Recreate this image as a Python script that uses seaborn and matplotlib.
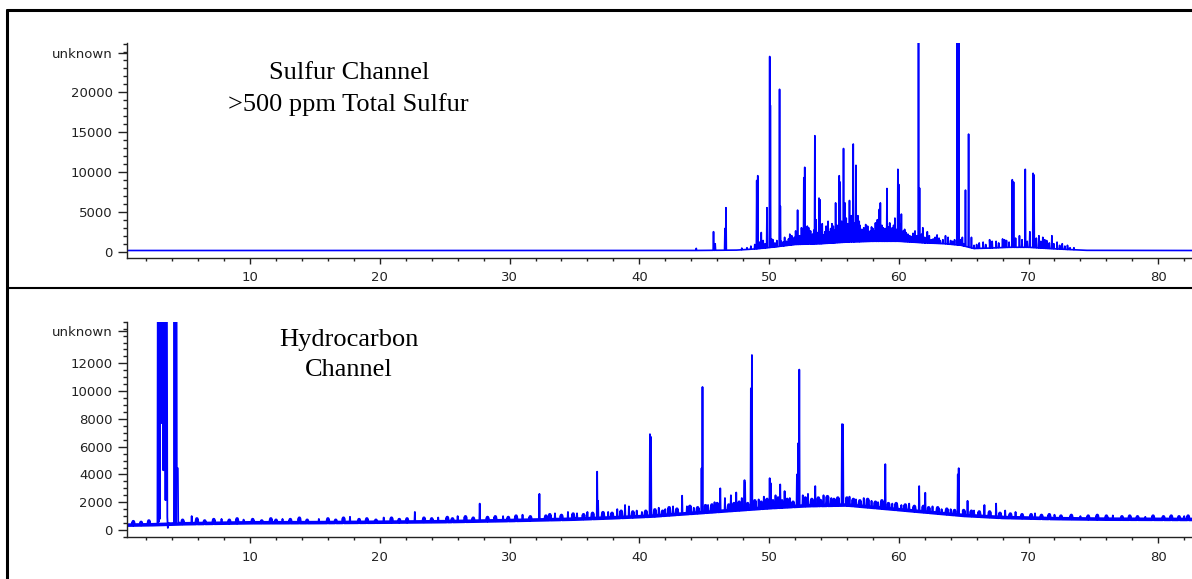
import numpy as np
import matplotlib
matplotlib.use("Agg")
import matplotlib.pyplot as plt
from matplotlib.ticker import MultipleLocator, FixedLocator, FixedFormatter
from matplotlib.lines import Line2D
import seaborn as sns

# ---------------- data ----------------
# Sulfur channel baseline knots
s_base_t = [0.49, 44.0, 47.5, 49.0, 50.5, 52.0, 54.0, 56.0, 58.0, 60.0, 62.0, 63.5, 64.8, 65.8, 67.0, 68.5, 70.0, 71.5, 73.0, 74.5, 82.6]
s_base_v = [150, 150, 200, 350, 600, 900, 1000, 1200, 1300, 1300, 1100, 1000, 800, 400, 450, 550, 550, 400, 280, 170, 150]

# Sulfur channel main peaks (retention time, signal)
s_peak_t = [44.39, 45.72, 45.85, 46.60, 46.68, 47.9, 48.3, 48.6, 49.05, 49.13, 49.4, 49.84, 50.05, 50.10,
            50.3, 50.81, 50.87, 51.1, 51.5, 51.75, 51.95, 52.2, 52.5, 52.68, 52.75, 52.95, 53.2, 53.35,
            53.53, 53.62, 53.85, 53.92, 54.1, 54.3, 54.55, 54.75, 54.95, 55.13, 55.41, 55.48, 55.74,
            55.85, 56.05, 56.2, 56.49, 56.70, 56.85, 57.0, 57.3, 57.6, 57.8, 58.0, 58.2, 58.5, 58.58,
            58.8, 59.09, 59.3, 59.5, 59.7, 59.93, 60.0, 60.2, 60.45, 60.7, 61.0, 61.25, 61.52, 61.6,
            61.85, 62.2, 62.5, 62.8, 63.2, 63.6, 64.0, 64.3, 64.50, 64.62, 64.9, 65.14, 65.38, 65.6,
            66.0, 66.5, 67.0, 67.5, 68.0, 68.3, 68.75, 68.85, 69.3, 69.75, 70.1, 70.35, 70.42, 70.8,
            71.1, 71.4, 71.8, 72.2, 72.6, 73.0, 73.5]
s_peak_v = [420, 2500, 1000, 2900, 5500, 450, 500, 700, 8900, 9500, 2400, 5500, 24400, 18300,
            1500, 20300, 5700, 1200, 1600, 2000, 1800, 5200, 3000, 9250, 10550, 3200, 2600, 2200,
            14500, 4000, 6700, 6500, 3500, 2500, 3800, 2900, 3200, 6100, 9500, 8700, 12900,
            6100, 3500, 6400, 13460, 10800, 4500, 3300, 3000, 3200, 2600, 2900, 3600, 5300, 6100,
            3000, 7900, 3600, 3000, 4200, 10300, 8400, 4700, 2800, 2200, 1900, 2600, 30000, 7960,
            3000, 2500, 1500, 1800, 1400, 2000, 1400, 1500, 30000, 30000, 1800, 7700, 14700, 1800,
            900, 1200, 1500, 1300, 1600, 1400, 9000, 8700, 2000, 10300, 2500, 9800, 9600, 2000,
            1800, 1400, 2000, 1200, 1000, 800, 500]

# Sulfur channel minor clutter peaks
s_small_t = [48.9, 49.25, 49.55, 49.7, 50.2, 50.45, 50.6, 50.95, 51.2, 51.35, 51.6, 51.85, 52.05, 52.35,
             52.6, 52.85, 53.05, 53.25, 53.45, 53.7, 54.0, 54.2, 54.4, 54.65, 54.85, 55.05, 55.25,
             55.6, 55.95, 56.1, 56.35, 56.6, 56.95, 57.15, 57.45, 57.7, 57.9, 58.1, 58.35, 58.7,
             58.95, 59.2, 59.4, 59.6, 59.85, 60.1, 60.35, 60.55, 60.85, 61.1, 61.4, 61.75, 62.0,
             62.35, 62.65, 62.95, 63.1, 63.4, 63.8, 64.15, 64.75, 65.0, 65.8, 66.2, 66.7, 67.2,
             67.7, 68.15, 68.5, 69.0, 69.5, 69.9, 70.6, 70.95, 71.25, 71.6, 71.95, 72.4, 72.8, 73.2]
s_small_v = [900, 1200, 1400, 1000, 1600, 1100, 1400, 1300, 1800, 1300, 2200, 1500, 2600, 2000,
             2800, 2300, 3000, 2000, 2700, 2400, 2900, 2100, 3200, 2500, 3500, 2700, 3300,
             3800, 4200, 3000, 4500, 3600, 3800, 2800, 3400, 2500, 3100, 2600, 4000, 3300,
             2900, 3100, 2500, 3300, 2800, 3500, 2600, 2400, 2000, 2300, 2000, 2200, 1800,
             2000, 1600, 2100, 1700, 1500, 1800, 1300, 1500, 1000, 800, 1100, 900, 1300,
             1100, 1500, 1200, 1700, 1500, 1300, 1700, 1300, 1500, 1100, 1000, 800, 700, 500]

# Hydrocarbon channel baseline knots
h_base_t = [0.49, 2.5, 5, 10, 15, 20, 25, 30, 35, 38, 41, 44, 47, 50, 53, 56, 59, 62, 65, 68, 72, 76, 82.6]
h_base_v = [350, 380, 450, 520, 530, 560, 600, 680, 780, 880, 1000, 1200, 1400, 1600, 1750, 1800,
            1550, 1300, 1050, 900, 820, 780, 760]

# Hydrocarbon channel: solvent cluster traced point by point (off-scale tops)
h_clu_t = [2.86, 2.89, 2.92, 2.95, 2.98, 3.01, 3.04, 3.07, 3.10, 3.16, 3.22, 3.26, 3.31, 3.36, 3.42,
           3.48, 3.54, 3.58, 3.62, 3.66, 3.72, 3.9, 4.14, 4.17, 4.20, 4.23, 4.26, 4.29, 4.33, 4.35,
           4.43, 4.46, 4.6]
h_clu_v = [450, 20000, 600, 20000, 600, 20000, 800, 20000, 20000, 7700, 20000, 20000, 4300, 20000, 20000,
           2150, 20000, 20000, 930, 150, 500, 450, 500, 20000, 500, 20000, 500, 20000, 20000, 4450,
           4450, 600, 480]

# Hydrocarbon channel peaks (retention time, signal)
h_peak_t = [5.5, 7.8, 9.5, 12.5, 15.3, 17.7, 20.3, 22.7, 24.5, 26.0, 27.7, 29.5, 31.0, 32.3, 33.5,
            34.5, 35.2, 36.0, 36.75, 36.82, 37.6, 38.3, 38.9, 39.2, 39.8, 40.2, 40.82, 40.9, 41.5,
            42.0, 42.6, 43.3, 43.67, 44.2, 44.80, 44.87, 45.3, 45.8, 46.24, 46.6, 47.06, 47.47, 47.9,
            48.11, 48.15, 48.6, 48.68, 49.2, 49.6, 50.05, 50.12, 50.5, 50.86, 51.2, 51.6, 52.15,
            52.25, 52.33, 52.6, 53.0, 53.56, 54.2, 54.8, 55.62, 55.70, 56.2, 56.7, 57.3, 57.9, 58.4,
            58.96, 59.5, 60.2, 60.8, 61.57, 62.04, 62.6, 63.3, 64.0, 64.55, 64.62, 65.3, 65.8, 66.6,
            67.5, 68.2, 69.0, 70.5, 72.0, 74.0, 76.5, 79.0, 82.0]
h_peak_v = [1000, 800, 750, 800, 800, 950, 900, 1300, 900, 1000, 1900, 1000, 1100, 2600, 1200,
            1300, 1200, 1300, 4200, 2100, 1300, 1500, 1800, 1700, 1400, 1300, 6900, 6700, 1600,
            1500, 1700, 2470, 1700, 1600, 4450, 10300, 1800, 2000, 3000, 2300, 2500, 2700, 2300,
            3590, 3400, 10200, 12600, 2200, 2400, 3730, 3380, 2500, 3280, 2800, 2300, 4000,
            6250, 11550, 2500, 2600, 3160, 2500, 2300, 7620, 7600, 2400, 2200, 2300, 2100, 2000,
            4740, 1900, 1800, 1900, 3160, 2680, 1700, 1500, 1500, 4000, 4450, 2100, 1400, 1800,
            1900, 1400, 1300, 1200, 1100, 1000, 1050, 950, 1000]

# Hydrocarbon channel small baseline spikes (noise texture)
h_noise_t = [1.0, 1.6, 2.2, 4.8, 5.9, 6.5, 7.2, 8.4, 9.0, 10.2, 10.9, 11.6, 12.0, 13.1, 13.8, 14.4,
             16.0, 16.6, 17.2, 18.4, 19.0, 19.7, 20.9, 21.5, 22.1, 23.4, 24.0, 25.2, 25.6, 26.6,
             27.2, 28.3, 28.9, 29.9, 30.5, 31.6, 32.8, 33.1, 34.0, 34.9, 35.7, 36.4, 37.2, 37.9,
             38.6, 39.5, 40.5, 41.2, 41.8, 42.3, 42.9, 43.9, 44.5, 45.1, 45.6, 46.0, 46.9, 47.3,
             47.7, 48.35, 48.9, 49.4, 49.85, 50.3, 50.7, 51.0, 51.4, 51.85, 52.8, 53.3, 53.8, 54.0,
             54.5, 55.0, 55.3, 56.0, 56.5, 57.0, 57.6, 58.2, 58.7, 59.2, 59.8, 60.5, 61.2, 61.9,
             62.3, 63.0, 63.7, 64.3, 65.0, 65.6, 66.2, 67.0, 67.8, 68.6, 69.5, 70.2, 71.0, 71.6,
             72.5, 73.3, 74.6, 75.3, 76.0, 77.2, 77.8, 78.4, 79.6, 80.4, 81.0, 81.6, 82.3]
h_noise_v = [600, 550, 650, 700, 800, 650, 750, 700, 800, 750, 650, 800, 700, 750, 850, 700,
             800, 700, 850, 750, 800, 700, 850, 750, 800, 850, 800, 900, 800, 950,
             850, 900, 950, 900, 1000, 950, 1000, 1100, 1050, 1150, 1100, 1200, 1250, 1200,
             1350, 1300, 1350, 1450, 1350, 1600, 1500, 1700, 1600, 1750, 1800, 1900, 1800, 1900,
             2000, 1900, 2100, 2000, 2200, 2100, 2300, 2100, 2200, 2000, 2300, 2200, 2300, 2100,
             2400, 2200, 2300, 2300, 2200, 2100, 2200, 2000, 2100, 1900, 1900, 1800, 1700, 1700,
             1600, 1600, 1500, 1400, 1400, 1350, 1300, 1300, 1200, 1150, 1100, 1100, 1050, 1100,
             1000, 1050, 1000, 1050, 1000, 950, 1000, 950, 1000, 950, 1000, 950, 1000]

x_major = [10, 20, 30, 40, 50, 60, 70, 80]
s_yticks = [0, 5000, 10000, 15000, 20000, 24900]
s_ylabels = ["0", "5000", "10000", "15000", "20000", "unknown"]
h_yticks = [0, 2000, 4000, 6000, 8000, 10000, 12000, 14300]
h_ylabels = ["0", "2000", "4000", "6000", "8000", "10000", "12000", "unknown"]

s_title = "Sulfur Channel\n>500 ppm Total Sulfur"
h_title = "Hydrocarbon\nChannel"


def build_trace(base_t, base_v, peaks, hw, extra_t=(), extra_v=()):
    bt = np.asarray(base_t, float)
    bv = np.asarray(base_v, float)
    ts = list(bt)
    vs = list(bv)
    for pt, pv in peaks:
        for t, v in zip(pt, pv):
            ts += [t - hw, t, t + hw]
            vs += [np.interp(t - hw, bt, bv), v, np.interp(t + hw, bt, bv)]
    ts += list(extra_t)
    vs += list(extra_v)
    order = np.argsort(np.asarray(ts), kind="stable")
    return np.asarray(ts)[order], np.asarray(vs)[order]


sns.set_style("ticks")
plt.rcParams["font.family"] = ["DejaVu Sans"]

W, H = 1192, 579
fig = plt.figure(figsize=(W / 100, H / 100), dpi=100)
fig.patch.set_facecolor("white")

ax1 = fig.add_axes([126.7 / W, (H - 257.5) / H, (W - 126.7) / W, (257.5 - 43.3) / H])
ax2 = fig.add_axes([126.7 / W, (H - 537.3) / H, (W - 126.7) / W, (537.3 - 321.7) / H])

blue = "#0000ff"
st, sv = build_trace(s_base_t, s_base_v, [(s_peak_t, s_peak_v), (s_small_t, s_small_v)], 0.03)
sns.lineplot(x=st, y=sv, ax=ax1, color=blue, linewidth=1.2, estimator=None, sort=False)

# hydrocarbon: noisy baseline band + peaks
nt, nv = build_trace(h_base_t, h_base_v, [(h_noise_t, h_noise_v)], 0.06)
sns.lineplot(x=nt, y=nv, ax=ax2, color=blue, linewidth=2.6, estimator=None, sort=False)
ht, hv = build_trace(h_base_t, h_base_v, [(h_peak_t, h_peak_v)], 0.03, h_clu_t, h_clu_v)
sns.lineplot(x=ht, y=hv, ax=ax2, color=blue, linewidth=1.3, estimator=None, sort=False)

ax1.set_ylim(-725, 26050)
ax2.set_ylim(-525, 15000)

for ax, yt, yl, ymin in ((ax1, s_yticks, s_ylabels, 1000), (ax2, h_yticks, h_ylabels, 500)):
    ax.set_xlim(0.49, 82.6)
    ax.set_facecolor("white")
    ax.xaxis.set_major_locator(FixedLocator(x_major))
    ax.xaxis.set_minor_locator(MultipleLocator(2))
    ax.yaxis.set_major_locator(FixedLocator(yt))
    ax.yaxis.set_major_formatter(FixedFormatter(yl))
    ax.yaxis.set_minor_locator(MultipleLocator(ymin))
    ax.set_xlabel("")
    ax.set_ylabel("")
    for side in ("top", "right"):
        ax.spines[side].set_visible(False)
    for side in ("left", "bottom"):
        ax.spines[side].set_linewidth(1.0)
        ax.spines[side].set_color("#222222")
    ax.tick_params(axis="x", which="major", length=4.5, width=1.0, pad=5.5,
                   labelsize=9.5, color="#222222", labelcolor="#222222")
    ax.tick_params(axis="x", which="minor", length=2.5, width=1.0, color="#222222")
    ax.tick_params(axis="y", which="major", length=6.5, width=1.0, pad=3.5,
                   labelsize=9.5, color="#222222", labelcolor="#222222")
    ax.tick_params(axis="y", which="minor", length=3.0, width=1.0, color="#222222")

fig.text(348.8 / W, 1 - 89 / H, s_title, ha="center", va="center",
         family="Liberation Serif", fontsize=19, linespacing=1.45, color="black")
fig.text(348.8 / W, 1 - 355 / H, h_title, ha="center", va="center",
         family="Liberation Serif", fontsize=19, linespacing=1.45, color="black")

# frame lines
fig.add_artist(Line2D([7.5 / W, 1.0], [1 - 10 / H, 1 - 10 / H], color="black", linewidth=2.2))
fig.add_artist(Line2D([7.5 / W, 7.5 / W], [0.0, 1 - 10 / H], color="black", linewidth=2.2))
fig.add_artist(Line2D([7.5 / W, 1.0], [1 - 288.3 / H, 1 - 288.3 / H], color="black", linewidth=1.5))

fig.savefig("out.png", dpi=100)
